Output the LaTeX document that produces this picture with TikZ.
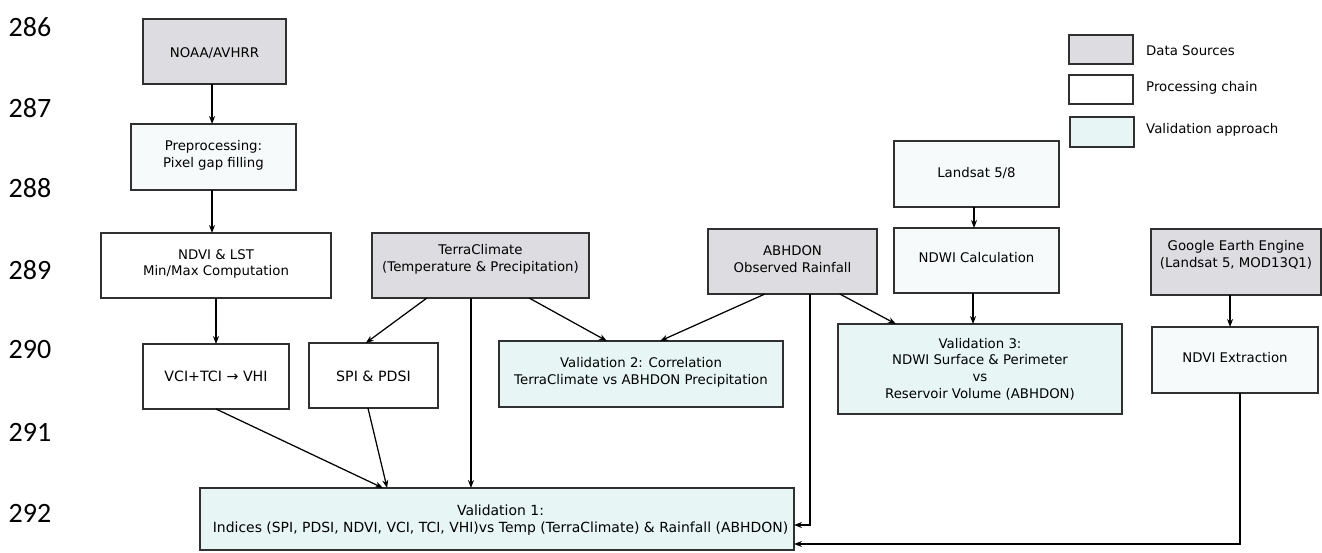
\documentclass[tikz,border=0pt]{standalone}
\usepackage{fontspec}
\setmainfont{DejaVu Sans}
\newfontfamily\numfont{Carlito}
\usetikzlibrary{arrows.meta,calc}
\definecolor{srcgray}{HTML}{DCDCE1}
\definecolor{valcyan}{HTML}{E7F5F5}
\definecolor{proctint}{HTML}{F6FAFB}
\definecolor{edgegray}{HTML}{303030}
\newcommand{\mkbox}[6]{\node[boxbase,#2,minimum width={(#5-#3)*1pt},minimum height={(#6-#4)*1pt}] (#1) at ({(#3+#5)/2},{(#4+#6)/2}) {};}
\tikzset{
  boxbase/.style={draw=edgegray,line width=1.3pt,rectangle,inner sep=0pt,outer sep=0pt},
  srcbox/.style={fill=srcgray},
  procbox/.style={fill=white},
  tintbox/.style={fill=proctint},
  valbox/.style={fill=valcyan},
  txt/.style={align=center,inner sep=0pt,font=\fontsize{13.3}{16.7}\selectfont},
  widetxt/.style={align=center,inner sep=0pt,font=\fontsize{14.2}{16.7}\selectfont},
  val1txt/.style={align=center,inner sep=0pt,font=\fontsize{13.95}{16.7}\selectfont},
  legtxt/.style={anchor=west,inner sep=0pt,font=\fontsize{13.3}{16.7}\selectfont},
  linenum/.style={inner sep=0pt,font=\numfont\fontsize{28}{30}\selectfont},
  arr/.style={draw=black,line width=1.25pt,-{Stealth[length=8pt,width=6pt]}}
}
\begin{document}
\begin{tikzpicture}[x=1pt,y=-1pt]
\useasboundingbox (0,0) rectangle (1322,552);
\fill[white] (0,0) rectangle (1322,552);

% line numbers
\node[linenum] (n286) at (30,27) {286};
\node[linenum] (n287) at (30,108) {287};
\node[linenum] (n288) at (30,188) {288};
\node[linenum] (n289) at (30,270) {289};
\node[linenum] (n290) at (30,350) {290};
\node[linenum] (n291) at (30,432) {291};
\node[linenum] (n292) at (30,513) {292};

% boxes
\mkbox{noaa}{srcbox}{143}{19}{286}{84}
\mkbox{pre}{tintbox}{131}{124}{296}{190}
\mkbox{ndvi}{procbox}{101}{233}{331}{298}
\mkbox{terra}{srcbox}{372}{233}{589}{298}
\mkbox{abh}{srcbox}{708}{229}{877}{294}
\mkbox{land}{tintbox}{894}{141}{1059}{207}
\mkbox{ndwi}{tintbox}{894}{228}{1059}{293}
\mkbox{gee}{srcbox}{1151}{229}{1321}{295}
\mkbox{vci}{procbox}{143}{344}{289}{409}
\mkbox{spi}{procbox}{309}{343}{438}{408}
\mkbox{val2}{valbox}{499}{341}{783}{407}
\mkbox{val3}{valbox}{838}{324}{1122}{414}
\mkbox{ndviex}{tintbox}{1152}{327}{1318}{393}
\mkbox{val1}{valbox}{200}{488}{794}{550}

% legend
\mkbox{leg1}{srcbox}{1069}{35}{1133}{64}
\mkbox{leg2}{procbox}{1069}{75}{1133}{104}
\mkbox{leg3}{valbox}{1070}{117}{1134}{147}
\node[legtxt] (leg1t) at (1146,51) {Data Sources};
\node[legtxt] (leg2t) at (1146,88) {Processing chain};
\node[legtxt] (leg3t) at (1146,130) {Validation approach};

% texts
\node[txt] (noaat) at (214.5,53) {NOAA/AVHRR};
\node[txt] (pret) at (213.5,155) {Preprocessing:\\Pixel gap filling};
\node[txt] (ndvit) at (216,264) {NDVI \& LST\\Min/Max Computation};
\node[txt] (terrat) at (480.5,259) {TerraClimate\\(Temperature \& Precipitation)};
\node[txt] (abht) at (792.5,259.5) {ABHDON\\Observed Rainfall};
\node[txt] (landt) at (976.5,173) {Landsat 5/8};
\node[txt] (ndwit) at (976.5,258) {NDWI Calculation};
\node[txt] (geet) at (1236,254.5) {Google Earth Engine\\(Landsat 5, MOD13Q1)};
\node[widetxt] (vcit) at (216,376.5) {VCI+TCI → VHI};
\node[widetxt] (spit) at (373.5,376) {SPI \& PDSI};
\node[txt] (val2t) at (641,372) {Validation 2: Correlation\\TerraClimate vs ABHDON Precipitation};
\node[txt] (val3t) at (980,369) {Validation 3:\\NDWI Surface \& Perimeter\\vs\\Reservoir Volume (ABHDON)};
\node[txt] (ndviext) at (1235,358) {NDVI Extraction};
\node[val1txt] (val1t) at (500.5,520) {Validation 1:\\Indices (SPI, PDSI, NDVI, VCI, TCI, VHI)vs Temp (TerraClimate) \& Rainfall (ABHDON)};

% connector end points
\coordinate (ns) at ($(noaa.south west)!0.483!(noaa.south east)$);
\coordinate (ps) at ($(pre.south west)!0.491!(pre.south east)$);
\coordinate (ts1) at ($(terra.south west)!0.253!(terra.south east)$);
\coordinate (ts2) at ($(terra.south west)!0.456!(terra.south east)$);
\coordinate (ts3) at ($(terra.south west)!0.724!(terra.south east)$);
\coordinate (spin) at ($(spi.north west)!0.44!(spi.north east)$);
\coordinate (v2a) at ($(val2.north west)!0.38!(val2.north east)$);
\coordinate (v2b) at ($(val2.north west)!0.567!(val2.north east)$);
\coordinate (as1) at ($(abh.south west)!0.337!(abh.south east)$);
\coordinate (as2) at ($(abh.south west)!0.604!(abh.south east)$);
\coordinate (as3) at ($(abh.south west)!0.78!(abh.south east)$);
\coordinate (v3a) at ($(val3.north west)!0.204!(val3.north east)$);
\coordinate (ls) at ($(land.south west)!0.485!(land.south east)$);
\coordinate (ws) at ($(ndwi.south west)!0.479!(ndwi.south east)$);
\coordinate (gs) at ($(gee.south west)!0.465!(gee.south east)$);
\coordinate (xs) at ($(ndviex.south west)!0.53!(ndviex.south east)$);
\coordinate (spis) at ($(spi.south west)!0.457!(spi.south east)$);
\coordinate (v1a) at ($(val1.north west)!0.308!(val1.north east)$);
\coordinate (v1b) at ($(val1.north west)!0.315!(val1.north east)$);
\coordinate (v1e1) at ($(val1.north east)!0.597!(val1.south east)$);
\coordinate (v1e2) at ($(val1.north east)!0.903!(val1.south east)$);

% connectors
\draw[arr] (ns) -- (ns |- pre.north);
\draw[arr] (ps) -- (ps |- ndvi.north);
\draw[arr] (ndvi.south) -- (vci.north);
\draw[arr] (ts1) -- (spin);
\draw[arr] (ts2) -- (ts2 |- val1.north);
\draw[arr] (ts3) -- (v2a);
\draw[arr] (as1) -- (v2b);
\draw[arr] (as3) -- (v3a);
\draw[arr] (as2) |- (v1e1);
\draw[arr] (ls) -- (ls |- ndwi.north);
\draw[arr] (ws) -- (ws |- val3.north);
\draw[arr] (gs) -- (gs |- ndviex.north);
\draw[arr] (xs) |- (v1e2);
\draw[arr] (vci.south) -- (v1a);
\draw[arr] (spis) -- (v1b);
\end{tikzpicture}
\end{document}
